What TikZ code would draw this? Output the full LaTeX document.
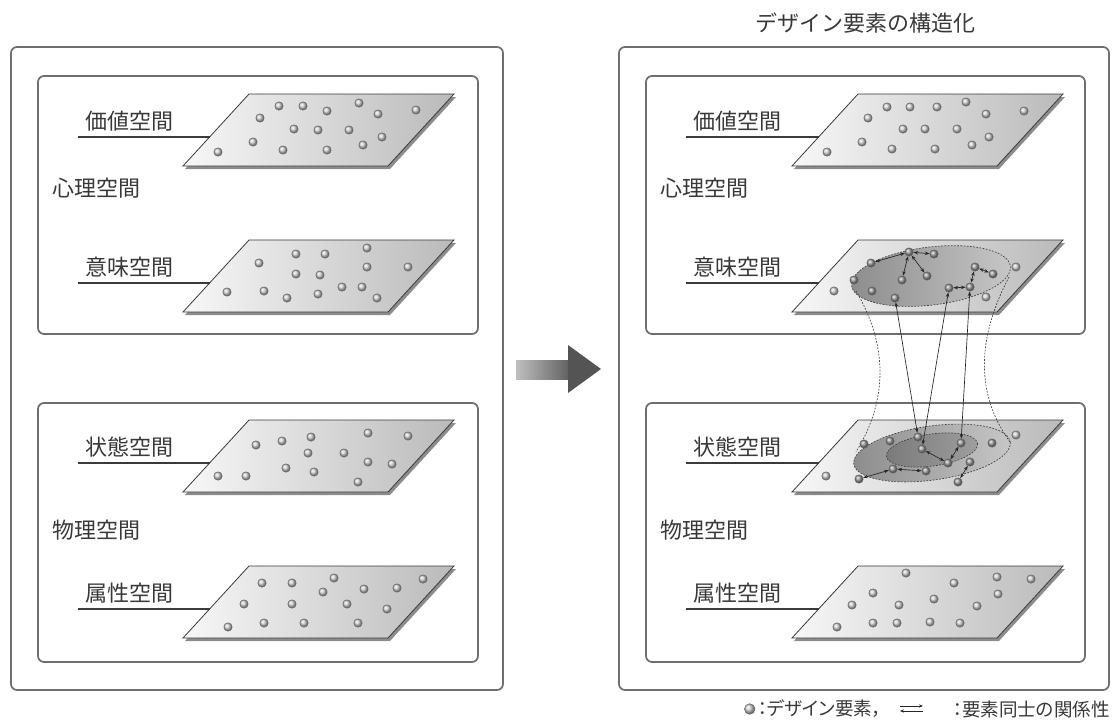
\documentclass[tikz,border=0pt]{standalone}
\usepackage{fontspec}
\newfontfamily\jp{Noto Sans CJK JP}
\newfontfamily\jpp[RawFeature=+palt]{Noto Sans CJK JP}
\usetikzlibrary{arrows.meta}
\definecolor{txt}{HTML}{383838}
\definecolor{boxc}{HTML}{6E6E6E}
\definecolor{edgec}{HTML}{3A3A3A}
% plane: #1 name of edge coordinate, #2 x, #3 y of top-left corner
\newcommand\drawplane[3]{%
  \fill[black!45] (#2+2,#3+3) -- ++(205,0) -- ++(-66,72) -- ++(-205,0) -- cycle;
  \shade[left color=black!3, right color=black!27, draw=edgec, line width=0.6pt]
    (#2,#3) -- ++(205,0) -- ++(-66,72) -- ++(-205,0) -- cycle;
  \coordinate (#1) at (#2-39.4,#3+43);
}
\begin{document}
\begin{tikzpicture}[x=0.75pt,y=-0.75pt,
  box/.style={draw=boxc, line width=1.3pt, rounded corners=4.5pt},
  lbl/.style={font=\jp\fontsize{16.5}{18}\selectfont, text=txt, inner sep=0},
  lgd/.style={font=\jpp\fontsize{13.9}{16}\selectfont, text=txt, inner sep=0},
  labline/.style={draw=edgec, line width=1.1pt},
  dot/.style={circle, inner sep=0, minimum size=6.3pt, ball color=black!18, draw=black!60, line width=0.35pt},
  dotin/.style={dot, ball color=black!40},
  rel/.style={{Stealth[length=3.5pt,width=2.6pt]}-{Stealth[length=3.5pt,width=2.6pt]}, draw=black!85, line width=0.5pt},
  hull/.style={draw=black!75, line width=0.5pt, dash pattern=on 1.3pt off 1.1pt},
  ell/.style={draw=black!75, line width=0.5pt, dash pattern=on 1.3pt off 1.1pt},
]
\useasboundingbox (0,0) rectangle (1117,722);

% title
\node[lbl] (title) at (865,23) {デザイン要素の構造化};

% boxes
\draw[box] (11,47) rectangle (503,690);
\draw[box] (38,76) rectangle (478,334);
\draw[box] (38,403) rectangle (478,662);
\draw[box] (619,47) rectangle (1109,690);
\draw[box] (646,76) rectangle (1085,334);
\draw[box] (646,403) rectangle (1085,662);

% planes
\drawplane{L1e}{249}{94}
\drawplane{L2e}{249}{240}
\drawplane{L3e}{249}{420}
\drawplane{L4e}{249}{566}
\drawplane{R1e}{858}{94}
\drawplane{R2e}{858}{240}
\drawplane{R3e}{858}{420}
\drawplane{R4e}{858}{566}

% plane labels
\foreach \n/\t/\y in {1/価値空間/137, 2/意味空間/283, 3/状態空間/463, 4/属性空間/609}{
  \coordinate (L\n s) at (78,\y);
  \coordinate (R\n s) at (686,\y);
  \draw[labline] (L\n s) -- (L\n e);
  \draw[labline] (R\n s) -- (R\n e);
  \node[lbl] (L\n t) at (129,\y-16) {\t};
  \node[lbl] (R\n t) at (737,\y-16) {\t};
}
\node[lbl] (Lpsy) at (96,188) {心理空間};
\node[lbl] (Rpsy) at (704,188) {心理空間};
\node[lbl] (Lphy) at (96,530) {物理空間};
\node[lbl] (Rphy) at (704,530) {物理空間};

% ellipses
\shade[ell, left color=black!45, right color=black!22, rotate around={7:(931,276)}]
  (931,276) ellipse [x radius=80, y radius=29];
\shade[ell, left color=black!45, right color=black!22, rotate around={8:(932,453)}]
  (932,453) ellipse [x radius=79, y radius=27];
\shade[ell, left color=black!52, right color=black!38, rotate around={8:(932,450)}]
  (932,450) ellipse [x radius=46, y radius=16];

% hull curves
\coordinate (hTL) at (856,291);
\coordinate (hBL) at (856,452);
\coordinate (hTR) at (1009,277);
\coordinate (hBR) at (1010,442);
\draw[hull] (hTL) .. controls (888,345) and (888,400) .. (hBL);
\draw[hull] (hTR) .. controls (976,340) and (976,395) .. (hBR);

% dots of plain planes
\foreach \p [count=\i] in {{279,106},{303,106},{327,111},{359,103},{378,114},{416,110},{260,118},{294,129},{318,130},{349,130},{382,137},{363,145},{253,142},{283,150},{327,150},{218,152}}
  \node[dot] (L1-\i) at (\p) {};
\foreach \p [count=\i] in {{259,263},{296,254},{325,254},{367,248},{367,267},{408,267},{296,274},{320,275},{227,292},{264,291},{287,298},{318,294},{342,287},{362,287},{377,298}}
  \node[dot] (L2-\i) at (\p) {};
\foreach \p [count=\i] in {{256,445},{282,441},{311,437},{368,433},{408,436},{308,453},{344,453},{368,462},{392,464},{218,476},{246,476},{286,468},{314,472},{358,482}}
  \node[dot] (L3-\i) at (\p) {};
\foreach \p [count=\i] in {{262,583},{292,583},{334,578},{323,592},{364,589},{397,588},{423,579},{244,604},{292,604},{347,604},{387,609},{228,627},{264,623},{304,623},{358,623}}
  \node[dot] (L4-\i) at (\p) {};
\foreach \p [count=\i] in {{887,107},{910,107},{937,107},{966,102},{986,114},{1024,111},{868,118},{903,129},{925,129},{957,129},{989,137},{972,145},{862,142},{892,149},{935,149},{827,152}}
  \node[dot] (R1-\i) at (\p) {};
\foreach \p [count=\i] in {{906,573},{954,583},{997,577},{1031,579},{873,593},{998,594},{852,605},{899,605},{934,599},{977,606},{837,627},{873,623},{897,623},{930,622},{960,623}}
  \node[dot] (R4-\i) at (\p) {};

% structured semantic space
\node[dotin] (m1) at (909,252) {};
\node[dotin] (m2) at (934,254) {};
\node[dotin] (m3) at (871,263) {};
\node[dotin] (m4) at (854,280) {};
\node[dotin] (m5) at (902,280) {};
\node[dotin] (m6) at (927,276) {};
\node[dot]   (m7) at (834,291) {};
\node[dotin] (m8) at (872,291) {};
\node[dotin] (m9) at (895,298) {};
\node[dotin] (m10) at (975,267) {};
\node[dotin] (m11) at (993,274) {};
\node[dot]   (m12) at (1016,267) {};
\node[dotin] (m13) at (949,288) {};
\node[dotin] (m14) at (970,287) {};
\node[dot]   (m15) at (986,297) {};

% structured state space
\node[dotin] (s1) at (918,437) {};
\node[dotin] (s2) at (890,441) {};
\node[dotin] (s3) at (864,444) {};
\node[dotin] (s4) at (922,449) {};
\node[dotin] (s5) at (961,443) {};
\node[dotin] (s6) at (992,443) {};
\node[dot]   (s7) at (1016,435) {};
\node[dotin] (s8) at (948,463) {};
\node[dotin] (s9) at (970,462) {};
\node[dotin] (s10) at (893,469) {};
\node[dotin] (s11) at (926,471) {};
\node[dot]   (s12) at (826,476) {};
\node[dotin] (s13) at (859,479) {};
\node[dotin] (s14) at (958,482) {};

% relations
\draw[rel] (m3) -- (m1);
\draw[rel] (m1) -- (m2);
\draw[rel] (m1) -- (m5);
\draw[rel] (m1) -- (m6);
\draw[rel] (m10) -- (m11);
\draw[rel] (m10) -- (m14);
\draw[rel] (m13) -- (m14);
\draw[rel] (s4) -- (s8);
\draw[rel] (s8) -- (s5);
\draw[rel] (s10) -- (s11);
\draw[rel] (s13) -- (s10);
\draw[rel] (s14) -- (s9);
% links between spaces
\draw[rel] (m9) -- (s1);
\draw[rel] (m13) -- (s4);
\draw[rel] (m14) -- (s5);

% middle arrow
\shade[left color=black!25, right color=black!62] (516,360) rectangle (569,379);
\fill[black!67] (568,345) -- (601,369) -- (568,393) -- cycle;

% legend
\node[lgd, anchor=east] (lg2) at (1110,709) {：要素同士の関係性};
\coordinate (la1) at (900,706);
\coordinate (la2) at (923,706);
\coordinate (lb1) at (900,711);
\coordinate (lb2) at (923,711);
\draw[-{Stealth[length=3pt,width=2.4pt]}, draw=black!85, line width=0.5pt] (la1) -- (la2);
\draw[-{Stealth[length=3pt,width=2.4pt]}, draw=black!85, line width=0.5pt] (lb2) -- (lb1);
\node[lgd, anchor=east] (lg1) at (882,709) {：デザイン要素，};
\node[dot, minimum size=8pt, anchor=east] (lgdot) at ([xshift=-2pt]lg1.west) {};
\end{tikzpicture}
\end{document}
